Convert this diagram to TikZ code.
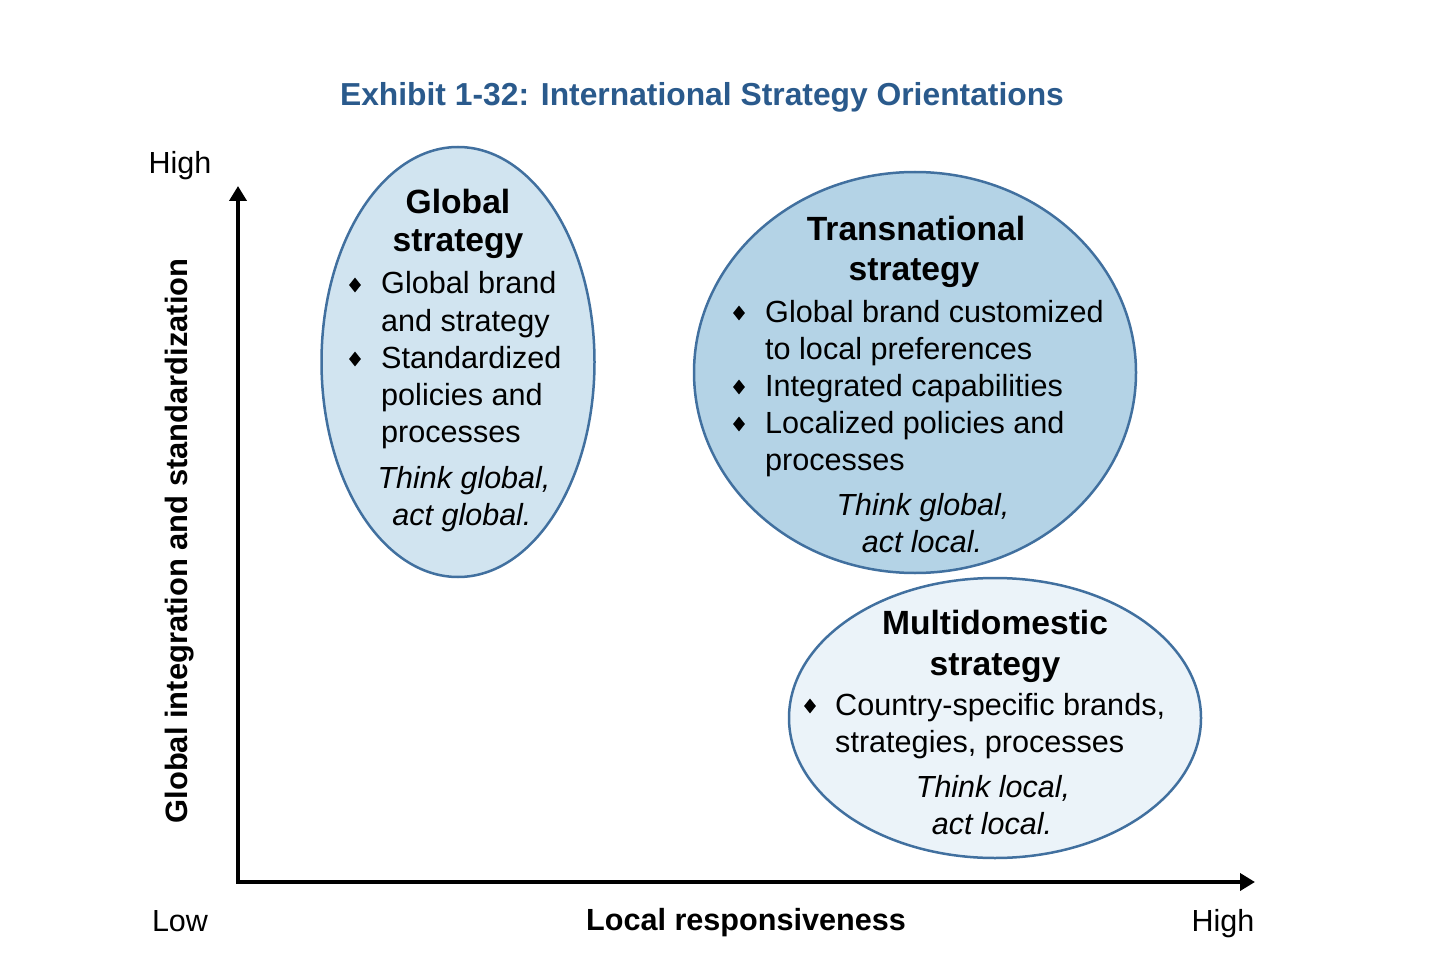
\documentclass[tikz,border=0pt]{standalone}
\usepackage{fontspec}
\setmainfont{Liberation Sans}
\usetikzlibrary{shapes.geometric,arrows.meta}
\definecolor{titleblue}{HTML}{2A5A8C}
\definecolor{edgeblue}{HTML}{41709F}
\definecolor{fillA}{HTML}{D1E4F0}
\definecolor{fillB}{HTML}{B4D3E6}
\definecolor{fillC}{HTML}{EBF3F9}
\begin{document}
\begin{tikzpicture}[x=1pt,y=-1pt,
 oval/.style={ellipse, draw=edgeblue, line width=2.5pt, inner sep=0pt},
 head/.style={font=\fontsize{33.6}{40}\selectfont\bfseries, inner sep=0pt, anchor=base},
 item/.style={font=\fontsize{30.6}{37}\selectfont, inner sep=0pt, anchor=base west},
 motto/.style={font=\fontsize{30.5}{37}\selectfont\itshape, inner sep=0pt, anchor=base},
 bul/.style={diamond, fill=black, inner sep=0pt, minimum width=12pt, minimum height=15pt},
 axislab/.style={font=\fontsize{30.5}{35}\selectfont, inner sep=0pt, anchor=base},
 axisbold/.style={font=\fontsize{30.6}{35}\selectfont\bfseries, inner sep=0pt, anchor=base},
]
\useasboundingbox (0,0) rectangle (1432,968);

% title
\node[font=\fontsize{31.8}{38}\selectfont\bfseries, text=titleblue, inner sep=0pt, anchor=base] (title) at (702,106) {Exhibit 1-32: International Strategy Orientations};

% axes
\coordinate (ytop) at (238,186);
\coordinate (origin) at (238,882);
\coordinate (xend) at (1255,882);
\draw[line width=4.2pt, {Triangle[length=15pt,width=17pt]}-{Triangle[length=15pt,width=17pt]}] (ytop) -- (origin) -- (xend);

\node[axislab] (yhigh) at (180,174) {High};
\node[axislab] (xlow) at (180,931) {Low};
\node[axislab] (xhigh) at (1223,931) {High};
\node[axisbold] (xlab) at (746,930) {Local responsiveness};
\node[axisbold, rotate=90, font=\fontsize{30.9}{35}\selectfont\bfseries] (ylab) at (187,541) {Global integration and standardization};

% ellipses
\node[oval, fill=fillA, minimum width=273pt, minimum height=430pt] (global) at (458,362) {};
\node[oval, fill=fillB, minimum width=442pt, minimum height=401pt] (trans) at (915,372.5) {};
\node[oval, fill=fillC, minimum width=412pt, minimum height=280pt] (multi) at (995,718) {};

% Global strategy
\node[head] (g1) at (458,214) {Global};
\node[head] (g2) at (458,252) {strategy};
\node[bul] (gb1) at (355,285) {};
\node[item] (gi1) at (381,294) {Global brand};
\node[item] (gi2) at (381,331) {and strategy};
\node[bul] (gb2) at (355,359) {};
\node[item] (gi3) at (381,368) {Standardized};
\node[item] (gi4) at (381,405) {policies and};
\node[item] (gi5) at (381,442) {processes};
\node[motto] (gm1) at (464,488) {Think global,};
\node[motto] (gm2) at (462,525) {act global.};

% Transnational strategy
\node[head] (t1) at (916,241) {Transnational};
\node[head] (t2) at (914,281) {strategy};
\node[bul] (tb1) at (739,313) {};
\node[item] (ti1) at (765,322) {Global brand customized};
\node[item] (ti2) at (765,359) {to local preferences};
\node[bul] (tb2) at (739,387) {};
\node[item] (ti3) at (765,396) {Integrated capabilities};
\node[bul] (tb3) at (739,424) {};
\node[item] (ti4) at (765,433) {Localized policies and};
\node[item] (ti5) at (765,470) {processes};
\node[motto] (tm1) at (923,515) {Think global,};
\node[motto] (tm2) at (922,552) {act local.};

% Multidomestic strategy
\node[head] (m1) at (995,634) {Multidomestic};
\node[head] (m2) at (995,675) {strategy};
\node[bul] (mb1) at (810,706) {};
\node[item] (mi1) at (835,715) {Country-specific brands,};
\node[item] (mi2) at (835,752) {strategies, processes};
\node[motto] (mm1) at (993,797) {Think local,};
\node[motto] (mm2) at (992,834) {act local.};
\end{tikzpicture}
\end{document}
